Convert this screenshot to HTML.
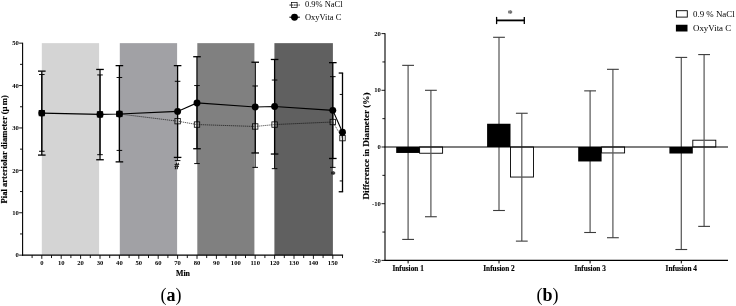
<!DOCTYPE html>
<html><head><meta charset="utf-8"><title>Figure</title>
<style>
html,body{margin:0;padding:0;background:#fff;}
body{width:736px;height:306px;overflow:hidden;}
svg{display:block;will-change:transform;}
text{font-family:"Liberation Serif",serif;fill:#000;}
.tk{font-size:6.6px;font-weight:bold;}
.ax{font-size:7.6px;font-weight:bold;stroke:#000;stroke-width:0.15px;}
.lg{font-size:8.9px;}
.sm{font-size:8px;font-weight:bold;}
.hs{font-family:"Liberation Sans",sans-serif;font-size:8.4px;font-weight:bold;stroke:#000;stroke-width:0.3px;}
.pn{font-size:18px;}
</style></head><body>
<svg width="736" height="306" viewBox="0 0 736 306">
<rect width="736" height="306" fill="#fff"/>
<rect x="41.80" y="43.15" width="57.30" height="212.00" fill="#d4d4d4"/>
<rect x="119.80" y="43.15" width="57.30" height="212.00" fill="#a1a1a5"/>
<rect x="197.30" y="43.15" width="57.10" height="212.00" fill="#808080"/>
<rect x="274.40" y="43.15" width="58.50" height="212.00" fill="#606060"/>
<line x1="22.6" y1="42.75" x2="22.6" y2="255.65" stroke="#000" stroke-width="1.1"/>
<line x1="22.1" y1="255.15" x2="343.1" y2="255.15" stroke="#000" stroke-width="1.1"/>
<line x1="19.10" y1="255.15" x2="22.6" y2="255.15" stroke="#000" stroke-width="0.9"/>
<text x="18.8" y="257.30" text-anchor="end" class="tk">0</text>
<line x1="20.00" y1="233.95" x2="22.6" y2="233.95" stroke="#000" stroke-width="0.9"/>
<line x1="19.10" y1="212.75" x2="22.6" y2="212.75" stroke="#000" stroke-width="0.9"/>
<text x="18.8" y="214.90" text-anchor="end" class="tk">10</text>
<line x1="20.00" y1="191.55" x2="22.6" y2="191.55" stroke="#000" stroke-width="0.9"/>
<line x1="19.10" y1="170.35" x2="22.6" y2="170.35" stroke="#000" stroke-width="0.9"/>
<text x="18.8" y="172.50" text-anchor="end" class="tk">20</text>
<line x1="20.00" y1="149.15" x2="22.6" y2="149.15" stroke="#000" stroke-width="0.9"/>
<line x1="19.10" y1="127.95" x2="22.6" y2="127.95" stroke="#000" stroke-width="0.9"/>
<text x="18.8" y="130.10" text-anchor="end" class="tk">30</text>
<line x1="20.00" y1="106.75" x2="22.6" y2="106.75" stroke="#000" stroke-width="0.9"/>
<line x1="19.10" y1="85.55" x2="22.6" y2="85.55" stroke="#000" stroke-width="0.9"/>
<text x="18.8" y="87.70" text-anchor="end" class="tk">40</text>
<line x1="20.00" y1="64.35" x2="22.6" y2="64.35" stroke="#000" stroke-width="0.9"/>
<line x1="19.10" y1="43.15" x2="22.6" y2="43.15" stroke="#000" stroke-width="0.9"/>
<text x="18.8" y="45.30" text-anchor="end" class="tk">50</text>
<line x1="32.10" y1="255.15" x2="32.10" y2="258.05" stroke="#000" stroke-width="0.9"/>
<line x1="41.80" y1="255.15" x2="41.80" y2="258.85" stroke="#000" stroke-width="0.9"/>
<text x="41.80" y="264.9" text-anchor="middle" class="tk">0</text>
<line x1="51.50" y1="255.15" x2="51.50" y2="258.05" stroke="#000" stroke-width="0.9"/>
<line x1="61.20" y1="255.15" x2="61.20" y2="258.85" stroke="#000" stroke-width="0.9"/>
<text x="61.20" y="264.9" text-anchor="middle" class="tk">10</text>
<line x1="70.90" y1="255.15" x2="70.90" y2="258.05" stroke="#000" stroke-width="0.9"/>
<line x1="80.60" y1="255.15" x2="80.60" y2="258.85" stroke="#000" stroke-width="0.9"/>
<text x="80.60" y="264.9" text-anchor="middle" class="tk">20</text>
<line x1="90.30" y1="255.15" x2="90.30" y2="258.05" stroke="#000" stroke-width="0.9"/>
<line x1="100.00" y1="255.15" x2="100.00" y2="258.85" stroke="#000" stroke-width="0.9"/>
<text x="100.00" y="264.9" text-anchor="middle" class="tk">30</text>
<line x1="109.70" y1="255.15" x2="109.70" y2="258.05" stroke="#000" stroke-width="0.9"/>
<line x1="119.40" y1="255.15" x2="119.40" y2="258.85" stroke="#000" stroke-width="0.9"/>
<text x="119.40" y="264.9" text-anchor="middle" class="tk">40</text>
<line x1="129.10" y1="255.15" x2="129.10" y2="258.05" stroke="#000" stroke-width="0.9"/>
<line x1="138.80" y1="255.15" x2="138.80" y2="258.85" stroke="#000" stroke-width="0.9"/>
<text x="138.80" y="264.9" text-anchor="middle" class="tk">50</text>
<line x1="148.50" y1="255.15" x2="148.50" y2="258.05" stroke="#000" stroke-width="0.9"/>
<line x1="158.20" y1="255.15" x2="158.20" y2="258.85" stroke="#000" stroke-width="0.9"/>
<text x="158.20" y="264.9" text-anchor="middle" class="tk">60</text>
<line x1="167.90" y1="255.15" x2="167.90" y2="258.05" stroke="#000" stroke-width="0.9"/>
<line x1="177.60" y1="255.15" x2="177.60" y2="258.85" stroke="#000" stroke-width="0.9"/>
<text x="177.60" y="264.9" text-anchor="middle" class="tk">70</text>
<line x1="187.30" y1="255.15" x2="187.30" y2="258.05" stroke="#000" stroke-width="0.9"/>
<line x1="197.00" y1="255.15" x2="197.00" y2="258.85" stroke="#000" stroke-width="0.9"/>
<text x="197.00" y="264.9" text-anchor="middle" class="tk">80</text>
<line x1="206.70" y1="255.15" x2="206.70" y2="258.05" stroke="#000" stroke-width="0.9"/>
<line x1="216.40" y1="255.15" x2="216.40" y2="258.85" stroke="#000" stroke-width="0.9"/>
<text x="216.40" y="264.9" text-anchor="middle" class="tk">90</text>
<line x1="226.10" y1="255.15" x2="226.10" y2="258.05" stroke="#000" stroke-width="0.9"/>
<line x1="235.80" y1="255.15" x2="235.80" y2="258.85" stroke="#000" stroke-width="0.9"/>
<text x="235.80" y="264.9" text-anchor="middle" class="tk">100</text>
<line x1="245.50" y1="255.15" x2="245.50" y2="258.05" stroke="#000" stroke-width="0.9"/>
<line x1="255.20" y1="255.15" x2="255.20" y2="258.85" stroke="#000" stroke-width="0.9"/>
<text x="255.20" y="264.9" text-anchor="middle" class="tk">110</text>
<line x1="264.90" y1="255.15" x2="264.90" y2="258.05" stroke="#000" stroke-width="0.9"/>
<line x1="274.60" y1="255.15" x2="274.60" y2="258.85" stroke="#000" stroke-width="0.9"/>
<text x="274.60" y="264.9" text-anchor="middle" class="tk">120</text>
<line x1="284.30" y1="255.15" x2="284.30" y2="258.05" stroke="#000" stroke-width="0.9"/>
<line x1="294.00" y1="255.15" x2="294.00" y2="258.85" stroke="#000" stroke-width="0.9"/>
<text x="294.00" y="264.9" text-anchor="middle" class="tk">130</text>
<line x1="303.70" y1="255.15" x2="303.70" y2="258.05" stroke="#000" stroke-width="0.9"/>
<line x1="313.40" y1="255.15" x2="313.40" y2="258.85" stroke="#000" stroke-width="0.9"/>
<text x="313.40" y="264.9" text-anchor="middle" class="tk">140</text>
<line x1="323.10" y1="255.15" x2="323.10" y2="258.05" stroke="#000" stroke-width="0.9"/>
<line x1="332.80" y1="255.15" x2="332.80" y2="258.85" stroke="#000" stroke-width="0.9"/>
<text x="332.80" y="264.9" text-anchor="middle" class="tk">150</text>
<line x1="342.50" y1="255.15" x2="342.50" y2="258.05" stroke="#000" stroke-width="0.9"/>
<text x="183" y="276.3" text-anchor="middle" class="ax" style="font-size:7.9px">Min</text>
<text transform="translate(7.3,149.3) rotate(-90)" text-anchor="middle" class="ax" style="font-size:8.6px">Pial arteriolar diameter (µ<tspan dx="1.3">m</tspan>)</text>
<line x1="41.80" y1="113.11" x2="41.80" y2="74.53" stroke="#000" stroke-width="0.95"/>
<line x1="39.00" y1="74.53" x2="44.60" y2="74.53" stroke="#000" stroke-width="0.95"/>
<line x1="41.80" y1="113.11" x2="41.80" y2="151.27" stroke="#000" stroke-width="0.95"/>
<line x1="39.00" y1="151.27" x2="44.60" y2="151.27" stroke="#000" stroke-width="0.95"/>
<line x1="100.00" y1="114.38" x2="100.00" y2="74.95" stroke="#000" stroke-width="0.95"/>
<line x1="97.20" y1="74.95" x2="102.80" y2="74.95" stroke="#000" stroke-width="0.95"/>
<line x1="100.00" y1="114.38" x2="100.00" y2="154.66" stroke="#000" stroke-width="0.95"/>
<line x1="97.20" y1="154.66" x2="102.80" y2="154.66" stroke="#000" stroke-width="0.95"/>
<line x1="119.40" y1="113.96" x2="119.40" y2="77.49" stroke="#000" stroke-width="0.95"/>
<line x1="116.60" y1="77.49" x2="122.20" y2="77.49" stroke="#000" stroke-width="0.95"/>
<line x1="119.40" y1="113.96" x2="119.40" y2="150.42" stroke="#000" stroke-width="0.95"/>
<line x1="116.60" y1="150.42" x2="122.20" y2="150.42" stroke="#000" stroke-width="0.95"/>
<line x1="177.60" y1="121.17" x2="177.60" y2="81.31" stroke="#000" stroke-width="0.95"/>
<line x1="174.80" y1="81.31" x2="180.40" y2="81.31" stroke="#000" stroke-width="0.95"/>
<line x1="177.60" y1="121.17" x2="177.60" y2="160.60" stroke="#000" stroke-width="0.95"/>
<line x1="174.80" y1="160.60" x2="180.40" y2="160.60" stroke="#000" stroke-width="0.95"/>
<line x1="197.00" y1="124.56" x2="197.00" y2="85.55" stroke="#000" stroke-width="0.95"/>
<line x1="194.20" y1="85.55" x2="199.80" y2="85.55" stroke="#000" stroke-width="0.95"/>
<line x1="197.00" y1="124.56" x2="197.00" y2="163.57" stroke="#000" stroke-width="0.95"/>
<line x1="194.20" y1="163.57" x2="199.80" y2="163.57" stroke="#000" stroke-width="0.95"/>
<line x1="255.20" y1="126.47" x2="255.20" y2="85.97" stroke="#000" stroke-width="0.95"/>
<line x1="252.40" y1="85.97" x2="258.00" y2="85.97" stroke="#000" stroke-width="0.95"/>
<line x1="255.20" y1="126.47" x2="255.20" y2="167.38" stroke="#000" stroke-width="0.95"/>
<line x1="252.40" y1="167.38" x2="258.00" y2="167.38" stroke="#000" stroke-width="0.95"/>
<line x1="274.60" y1="124.56" x2="274.60" y2="80.04" stroke="#000" stroke-width="0.95"/>
<line x1="271.80" y1="80.04" x2="277.40" y2="80.04" stroke="#000" stroke-width="0.95"/>
<line x1="274.60" y1="124.56" x2="274.60" y2="168.65" stroke="#000" stroke-width="0.95"/>
<line x1="271.80" y1="168.65" x2="277.40" y2="168.65" stroke="#000" stroke-width="0.95"/>
<line x1="332.80" y1="122.01" x2="332.80" y2="76.65" stroke="#000" stroke-width="0.95"/>
<line x1="330.00" y1="76.65" x2="335.60" y2="76.65" stroke="#000" stroke-width="0.95"/>
<line x1="332.80" y1="122.01" x2="332.80" y2="167.38" stroke="#000" stroke-width="0.95"/>
<line x1="330.00" y1="167.38" x2="335.60" y2="167.38" stroke="#000" stroke-width="0.95"/>
<line x1="342.50" y1="138.13" x2="342.50" y2="94.45" stroke="#000" stroke-width="0.95"/>
<line x1="339.70" y1="94.45" x2="342.98" y2="94.45" stroke="#000" stroke-width="0.95"/>
<line x1="342.50" y1="138.13" x2="342.50" y2="180.95" stroke="#000" stroke-width="0.95"/>
<line x1="339.70" y1="180.95" x2="342.98" y2="180.95" stroke="#000" stroke-width="0.95"/>
<polyline points="119.40,113.96 177.60,121.17 197.00,124.56 255.20,126.47 274.60,124.56 332.80,122.01 342.50,138.13" fill="none" stroke="#000" stroke-width="0.62" stroke-dasharray="1.3 0.7"/>
<line x1="41.80" y1="113.11" x2="41.80" y2="71.13" stroke="#000" stroke-width="1.3"/>
<line x1="38.00" y1="71.13" x2="45.60" y2="71.13" stroke="#000" stroke-width="1.3"/>
<line x1="41.80" y1="113.11" x2="41.80" y2="155.09" stroke="#000" stroke-width="1.3"/>
<line x1="38.00" y1="155.09" x2="45.60" y2="155.09" stroke="#000" stroke-width="1.3"/>
<line x1="100.00" y1="114.38" x2="100.00" y2="69.44" stroke="#000" stroke-width="1.3"/>
<line x1="96.20" y1="69.44" x2="103.80" y2="69.44" stroke="#000" stroke-width="1.3"/>
<line x1="100.00" y1="114.38" x2="100.00" y2="159.75" stroke="#000" stroke-width="1.3"/>
<line x1="96.20" y1="159.75" x2="103.80" y2="159.75" stroke="#000" stroke-width="1.3"/>
<line x1="119.40" y1="113.96" x2="119.40" y2="65.62" stroke="#000" stroke-width="1.3"/>
<line x1="115.60" y1="65.62" x2="123.20" y2="65.62" stroke="#000" stroke-width="1.3"/>
<line x1="119.40" y1="113.96" x2="119.40" y2="161.87" stroke="#000" stroke-width="1.3"/>
<line x1="115.60" y1="161.87" x2="123.20" y2="161.87" stroke="#000" stroke-width="1.3"/>
<line x1="177.60" y1="111.41" x2="177.60" y2="65.62" stroke="#000" stroke-width="1.3"/>
<line x1="173.80" y1="65.62" x2="181.40" y2="65.62" stroke="#000" stroke-width="1.3"/>
<line x1="177.60" y1="111.41" x2="177.60" y2="157.42" stroke="#000" stroke-width="1.3"/>
<line x1="173.80" y1="157.42" x2="181.40" y2="157.42" stroke="#000" stroke-width="1.3"/>
<line x1="197.00" y1="102.93" x2="197.00" y2="56.72" stroke="#000" stroke-width="1.3"/>
<line x1="193.20" y1="56.72" x2="200.80" y2="56.72" stroke="#000" stroke-width="1.3"/>
<line x1="197.00" y1="102.93" x2="197.00" y2="148.73" stroke="#000" stroke-width="1.3"/>
<line x1="193.20" y1="148.73" x2="200.80" y2="148.73" stroke="#000" stroke-width="1.3"/>
<line x1="255.20" y1="107.05" x2="255.20" y2="62.23" stroke="#000" stroke-width="1.3"/>
<line x1="251.40" y1="62.23" x2="259.00" y2="62.23" stroke="#000" stroke-width="1.3"/>
<line x1="255.20" y1="107.05" x2="255.20" y2="152.97" stroke="#000" stroke-width="1.3"/>
<line x1="251.40" y1="152.97" x2="259.00" y2="152.97" stroke="#000" stroke-width="1.3"/>
<line x1="274.60" y1="106.45" x2="274.60" y2="59.47" stroke="#000" stroke-width="1.3"/>
<line x1="270.80" y1="59.47" x2="278.40" y2="59.47" stroke="#000" stroke-width="1.3"/>
<line x1="274.60" y1="106.45" x2="274.60" y2="154.03" stroke="#000" stroke-width="1.3"/>
<line x1="270.80" y1="154.03" x2="278.40" y2="154.03" stroke="#000" stroke-width="1.3"/>
<line x1="332.80" y1="110.35" x2="332.80" y2="62.65" stroke="#000" stroke-width="1.3"/>
<line x1="329.00" y1="62.65" x2="336.60" y2="62.65" stroke="#000" stroke-width="1.3"/>
<line x1="332.80" y1="110.35" x2="332.80" y2="158.48" stroke="#000" stroke-width="1.3"/>
<line x1="329.00" y1="158.48" x2="336.60" y2="158.48" stroke="#000" stroke-width="1.3"/>
<line x1="342.50" y1="132.19" x2="342.50" y2="73.04" stroke="#000" stroke-width="1.3"/>
<line x1="338.70" y1="73.04" x2="343.15" y2="73.04" stroke="#000" stroke-width="1.3"/>
<line x1="342.50" y1="132.19" x2="342.50" y2="191.76" stroke="#000" stroke-width="1.3"/>
<line x1="338.70" y1="191.76" x2="343.15" y2="191.76" stroke="#000" stroke-width="1.3"/>
<polyline points="41.80,113.11 100.00,114.38 119.40,113.96 177.60,111.41 197.00,102.93 255.20,107.05 274.60,106.45 332.80,110.35 342.50,132.19" fill="none" stroke="#000" stroke-width="1.1"/>
<rect x="39.10" y="110.41" width="5.4" height="5.4" fill="#fff" fill-opacity="0.12" stroke="#000" stroke-width="0.8"/>
<rect x="97.30" y="111.68" width="5.4" height="5.4" fill="#fff" fill-opacity="0.12" stroke="#000" stroke-width="0.8"/>
<rect x="116.70" y="111.26" width="5.4" height="5.4" fill="#fff" fill-opacity="0.12" stroke="#000" stroke-width="0.8"/>
<rect x="174.90" y="118.47" width="5.4" height="5.4" fill="#fff" fill-opacity="0.12" stroke="#000" stroke-width="0.8"/>
<rect x="194.30" y="121.86" width="5.4" height="5.4" fill="#fff" fill-opacity="0.12" stroke="#000" stroke-width="0.8"/>
<rect x="252.50" y="123.77" width="5.4" height="5.4" fill="#fff" fill-opacity="0.12" stroke="#000" stroke-width="0.8"/>
<rect x="271.90" y="121.86" width="5.4" height="5.4" fill="#fff" fill-opacity="0.12" stroke="#000" stroke-width="0.8"/>
<rect x="330.10" y="119.31" width="5.4" height="5.4" fill="#fff" fill-opacity="0.12" stroke="#000" stroke-width="0.8"/>
<rect x="339.80" y="135.43" width="5.4" height="5.4" fill="#fff" fill-opacity="0.12" stroke="#000" stroke-width="0.8"/>
<circle cx="41.80" cy="113.11" r="3.45" fill="#000"/>
<circle cx="100.00" cy="114.38" r="3.45" fill="#000"/>
<circle cx="119.40" cy="113.96" r="3.45" fill="#000"/>
<circle cx="177.60" cy="111.41" r="3.45" fill="#000"/>
<circle cx="197.00" cy="102.93" r="3.45" fill="#000"/>
<circle cx="255.20" cy="107.05" r="3.45" fill="#000"/>
<circle cx="274.60" cy="106.45" r="3.45" fill="#000"/>
<circle cx="332.80" cy="110.35" r="3.45" fill="#000"/>
<circle cx="342.50" cy="132.19" r="3.45" fill="#000"/>
<text x="176.9" y="169.4" text-anchor="middle" class="hs">#</text>
<text x="333.1" y="178.2" text-anchor="middle" class="sm" style="font-size:10.5px">*</text>
<rect x="291.5" y="2.4" width="5.6" height="5.2" fill="#fff" stroke="#000" stroke-width="0.7"/>
<line x1="289.4" y1="5.05" x2="299.8" y2="5.05" stroke="#000" stroke-width="0.85" stroke-dasharray="1.7 0.6"/>
<text x="305" y="7.4" class="lg" style="font-size:8.45px">0.9% NaCl</text>
<line x1="289.4" y1="17.2" x2="299.8" y2="17.2" stroke="#000" stroke-width="1.1"/>
<circle cx="294.5" cy="17.2" r="3.45" fill="#000"/>
<text x="305" y="20" class="lg" style="font-size:8.45px">OxyVita C</text>
<text x="171" y="300.9" text-anchor="middle" class="pn">(<tspan font-weight="bold">a</tspan>)</text>
<line x1="385" y1="33.20" x2="385" y2="260.90" stroke="#000" stroke-width="1.1"/>
<line x1="384.5" y1="260.40" x2="728" y2="260.40" stroke="#000" stroke-width="1.1"/>
<line x1="381.50" y1="260.40" x2="385" y2="260.40" stroke="#000" stroke-width="0.9"/>
<text x="380.8" y="262.55" text-anchor="end" class="tk">-20</text>
<line x1="382.40" y1="232.05" x2="385" y2="232.05" stroke="#000" stroke-width="0.9"/>
<line x1="381.50" y1="203.70" x2="385" y2="203.70" stroke="#000" stroke-width="0.9"/>
<text x="380.8" y="205.85" text-anchor="end" class="tk">-10</text>
<line x1="382.40" y1="175.35" x2="385" y2="175.35" stroke="#000" stroke-width="0.9"/>
<line x1="381.50" y1="147.00" x2="385" y2="147.00" stroke="#000" stroke-width="0.9"/>
<text x="380.8" y="149.15" text-anchor="end" class="tk">0</text>
<line x1="382.40" y1="118.65" x2="385" y2="118.65" stroke="#000" stroke-width="0.9"/>
<line x1="381.50" y1="90.30" x2="385" y2="90.30" stroke="#000" stroke-width="0.9"/>
<text x="380.8" y="92.45" text-anchor="end" class="tk">10</text>
<line x1="382.40" y1="61.95" x2="385" y2="61.95" stroke="#000" stroke-width="0.9"/>
<line x1="381.50" y1="33.60" x2="385" y2="33.60" stroke="#000" stroke-width="0.9"/>
<text x="380.8" y="35.75" text-anchor="end" class="tk">20</text>
<text transform="translate(369.4,146) rotate(-90)" text-anchor="middle" class="ax" style="font-size:9.2px">Difference in Diameter (%)</text>
<rect x="419.60" y="147.00" width="23.0" height="6.24" fill="#fff" stroke="#000" stroke-width="0.9"/>
<line x1="408.10" y1="65.35" x2="408.10" y2="239.42" stroke="#5a5a5a" stroke-width="1.25"/>
<line x1="402.20" y1="65.35" x2="414.00" y2="65.35" stroke="#3c3c3c" stroke-width="1.1"/>
<line x1="402.20" y1="239.42" x2="414.00" y2="239.42" stroke="#3c3c3c" stroke-width="1.1"/>
<line x1="430.90" y1="90.30" x2="430.90" y2="216.74" stroke="#5a5a5a" stroke-width="1.25"/>
<line x1="425.00" y1="90.30" x2="436.80" y2="90.30" stroke="#3c3c3c" stroke-width="1.1"/>
<line x1="425.00" y1="216.74" x2="436.80" y2="216.74" stroke="#3c3c3c" stroke-width="1.1"/>
<rect x="396.20" y="147.00" width="23.4" height="5.95" fill="#000"/>
<line x1="408.10" y1="260.40" x2="408.10" y2="263.40" stroke="#000" stroke-width="1.0"/>
<text x="408.10" y="270.5" text-anchor="middle" class="ax" style="font-size:7.3px">Infusion 1</text>
<rect x="510.50" y="147.00" width="23.0" height="30.05" fill="#fff" stroke="#000" stroke-width="0.9"/>
<line x1="499.00" y1="37.29" x2="499.00" y2="210.50" stroke="#5a5a5a" stroke-width="1.25"/>
<line x1="493.10" y1="37.29" x2="504.90" y2="37.29" stroke="#3c3c3c" stroke-width="1.1"/>
<line x1="493.10" y1="210.50" x2="504.90" y2="210.50" stroke="#3c3c3c" stroke-width="1.1"/>
<line x1="521.80" y1="113.26" x2="521.80" y2="241.12" stroke="#5a5a5a" stroke-width="1.25"/>
<line x1="515.90" y1="113.26" x2="527.70" y2="113.26" stroke="#3c3c3c" stroke-width="1.1"/>
<line x1="515.90" y1="241.12" x2="527.70" y2="241.12" stroke="#3c3c3c" stroke-width="1.1"/>
<rect x="487.10" y="123.75" width="23.4" height="23.25" fill="#000"/>
<line x1="499.00" y1="260.40" x2="499.00" y2="263.40" stroke="#000" stroke-width="1.0"/>
<text x="499.00" y="270.5" text-anchor="middle" class="ax" style="font-size:7.3px">Infusion 2</text>
<rect x="601.60" y="147.00" width="23.0" height="5.95" fill="#fff" stroke="#000" stroke-width="0.9"/>
<line x1="590.10" y1="90.87" x2="590.10" y2="232.50" stroke="#5a5a5a" stroke-width="1.25"/>
<line x1="584.20" y1="90.87" x2="596.00" y2="90.87" stroke="#3c3c3c" stroke-width="1.1"/>
<line x1="584.20" y1="232.50" x2="596.00" y2="232.50" stroke="#3c3c3c" stroke-width="1.1"/>
<line x1="612.90" y1="69.32" x2="612.90" y2="237.72" stroke="#5a5a5a" stroke-width="1.25"/>
<line x1="607.00" y1="69.32" x2="618.80" y2="69.32" stroke="#3c3c3c" stroke-width="1.1"/>
<line x1="607.00" y1="237.72" x2="618.80" y2="237.72" stroke="#3c3c3c" stroke-width="1.1"/>
<rect x="578.20" y="147.00" width="23.4" height="14.46" fill="#000"/>
<line x1="590.10" y1="260.40" x2="590.10" y2="263.40" stroke="#000" stroke-width="1.0"/>
<text x="590.10" y="270.5" text-anchor="middle" class="ax" style="font-size:7.3px">Infusion 3</text>
<rect x="692.80" y="140.20" width="23.0" height="6.80" fill="#fff" stroke="#000" stroke-width="0.9"/>
<line x1="681.30" y1="57.41" x2="681.30" y2="249.51" stroke="#5a5a5a" stroke-width="1.25"/>
<line x1="675.40" y1="57.41" x2="687.20" y2="57.41" stroke="#3c3c3c" stroke-width="1.1"/>
<line x1="675.40" y1="249.51" x2="687.20" y2="249.51" stroke="#3c3c3c" stroke-width="1.1"/>
<line x1="704.10" y1="54.58" x2="704.10" y2="226.38" stroke="#5a5a5a" stroke-width="1.25"/>
<line x1="698.20" y1="54.58" x2="710.00" y2="54.58" stroke="#3c3c3c" stroke-width="1.1"/>
<line x1="698.20" y1="226.38" x2="710.00" y2="226.38" stroke="#3c3c3c" stroke-width="1.1"/>
<rect x="669.40" y="147.00" width="23.4" height="6.52" fill="#000"/>
<line x1="681.30" y1="260.40" x2="681.30" y2="263.40" stroke="#000" stroke-width="1.0"/>
<text x="681.30" y="270.5" text-anchor="middle" class="ax" style="font-size:7.3px">Infusion 4</text>
<line x1="384.5" y1="147.00" x2="728" y2="147.00" stroke="#000" stroke-width="1.1"/>
<line x1="496.2" y1="20.4" x2="524.7" y2="20.4" stroke="#000" stroke-width="1.8"/>
<line x1="496.6" y1="16.9" x2="496.6" y2="24.1" stroke="#000" stroke-width="1.3"/>
<line x1="524.3" y1="16.9" x2="524.3" y2="24.1" stroke="#000" stroke-width="1.3"/>
<text x="510.2" y="17.0" text-anchor="middle" class="sm" style="font-size:10.5px;fill:#4d4d4d">*</text>
<rect x="676.4" y="10.7" width="10.9" height="6.4" fill="#fff" stroke="#000" stroke-width="0.9"/>
<rect x="675.9" y="24.75" width="11.6" height="6.75" fill="#000"/>
<text x="693" y="16.9" class="lg">0.9 % NaCl</text>
<text x="693" y="30.7" class="lg">OxyVita C</text>
<text x="547.6" y="300.9" text-anchor="middle" class="pn">(<tspan font-weight="bold">b</tspan>)</text>
</svg>
</body></html>
